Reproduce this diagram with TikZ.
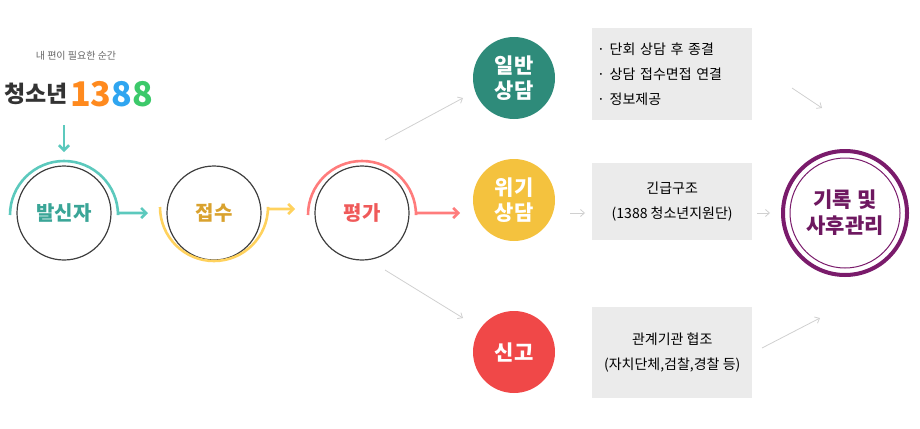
\documentclass[tikz,border=0pt]{standalone}
\usepackage{fontspec}
\setmainfont{Noto Sans CJK KR}
\usetikzlibrary{arrows.meta}
\definecolor{teal1}{HTML}{5CC9BD}
\definecolor{tealt}{HTML}{3AA597}
\definecolor{yel1}{HTML}{FFD25E}
\definecolor{yelt}{HTML}{D9A22E}
\definecolor{red1}{HTML}{FF7C7C}
\definecolor{redt}{HTML}{EF5A5A}
\definecolor{g1}{HTML}{2E8B7A}
\definecolor{g2}{HTML}{F4C23E}
\definecolor{g3}{HTML}{F04848}
\definecolor{pur}{HTML}{7A1B6B}
\definecolor{boxg}{HTML}{EBEBEB}
\definecolor{lg}{HTML}{D0D0D0}
\tikzset{
 ring/.style={circle,draw=black!75,line width=1.2pt,minimum size=94pt,inner sep=0pt,font=\bfseries\fontsize{20}{20}\selectfont},
 disk/.style={circle,minimum size=82pt,inner sep=0pt,text=white,align=center,font=\bfseries\fontsize{21}{25}\selectfont},
 gbox/.style={fill=boxg,minimum width=160pt,font=\fontsize{14}{25}\selectfont},
 thin/.style={lg,line width=0.8pt,-{Straight Barb[length=4pt,width=7pt]}},
 flow/.style={line width=2.6pt,-{Straight Barb[length=5pt,width=10pt]}}
}
\begin{document}
\begin{tikzpicture}[x=1pt,y=-1pt]
\useasboundingbox (0,0) rectangle (920,428);
\node[font=\fontsize{10}{10}\selectfont,text=black!60] (tag) at (76,56) {내 편이 필요한 순간};
\node[font=\bfseries\fontsize{23}{23}\selectfont,text=black!80] (cs) at (36,94) {청소년};
\node[font=\bfseries\fontsize{34}{34}\selectfont,anchor=west,inner sep=0pt] (num) at (70,94) {\textcolor[HTML]{FF8A1E}{13}\textcolor[HTML]{2FA5F0}{8}\textcolor[HTML]{3CC96A}{8}};
\node[ring,text=tealt] (a) at (64,213) {발신자};
\node[ring,text=yelt] (b) at (214,213) {접수};
\node[ring,text=redt] (c) at (362,213) {평가};
\coordinate (top) at (64,125);
\draw[teal1,flow] (top) -- (64,152);
\draw[teal1,flow] (10,215) arc (180:360:54) -- (118,213) -- (148,213);
\draw[yel1,flow] (160,207) arc (180:0:54) -- (268,209) -- (295,209);
\draw[red1,flow] (308,215) arc (180:360:54) -- (416,213) -- (460,213);
\node[disk,fill=g1] (d1) at (514,78) {일반\\상담};
\node[disk,fill=g2] (d2) at (514,200) {위기\\상담};
\node[disk,fill=g3] (d3) at (514,352) {신고};
\node[gbox,minimum height=92pt,anchor=north west,align=left,text width=150pt,inner xsep=5pt] (b1) at (592,28) {· 단회 상담 후 종결\\· 상담 접수면접 연결\\· 정보제공};
\node[gbox,minimum height=77pt,anchor=north west,align=center] (b2) at (592,163) {긴급구조\\(1388 청소년지원단)};
\node[gbox,minimum height=91pt,anchor=north west,align=center] (b3) at (592,307) {관계기관 협조\\(자치단체,검찰,경찰 등)};
\node[circle,draw=pur,line width=4pt,minimum size=124pt,inner sep=0pt] (e) at (845,213) {};
\node[circle,draw=pur,line width=1pt,minimum size=110pt,inner sep=0pt,align=center,text=pur!90!black,font=\bfseries\fontsize{21}{26}\selectfont] (e2) at (845,213) {기록 및\\사후관리};
\coordinate (p1) at (385,140); \coordinate (q1) at (463,98);
\coordinate (p2) at (385,270); \coordinate (q2) at (463,318);
\draw[thin] (p1) -- (q1);
\draw[thin] (p2) -- (q2);
\draw[thin] (570,213) -- (585,213);
\draw[thin] (757,213) -- (770,213);
\draw[thin] (792,88) -- (822,108);
\draw[thin] (762,348) -- (820,318);
\end{tikzpicture}
\end{document}
